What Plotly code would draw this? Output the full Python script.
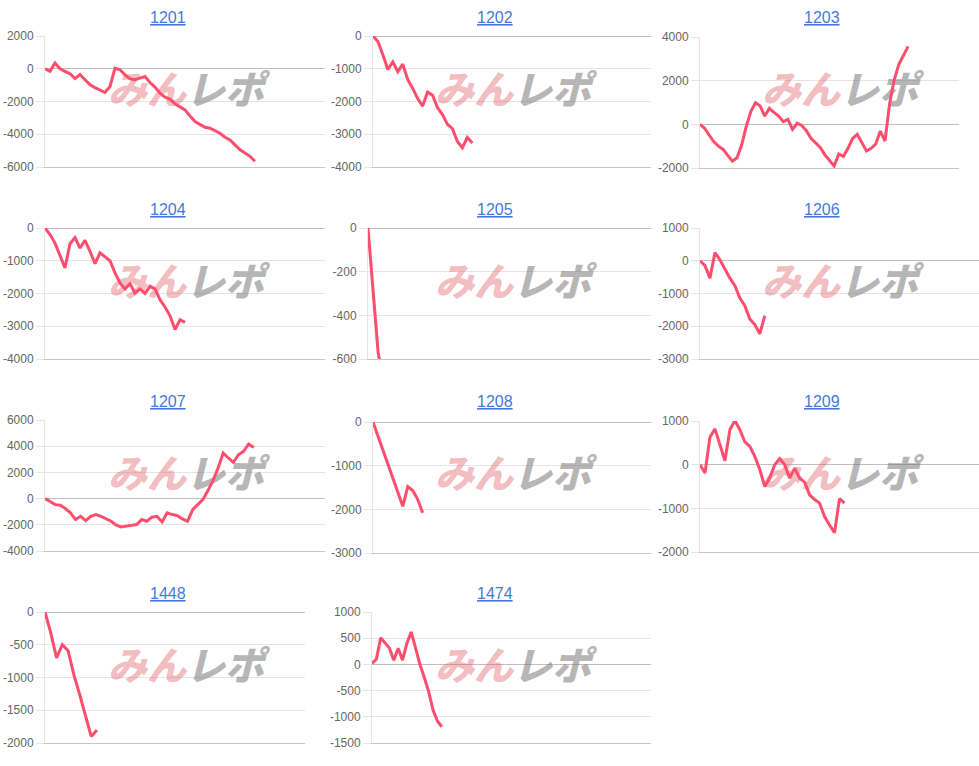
import plotly.graph_objects as go

W, H = 979, 766
OX, OY = 0, 0

# ---------------- data ----------------
machines = ["1201", "1202", "1203", "1204", "1205", "1206",
            "1207", "1208", "1209", "1448", "1474"]

diff_1201 = [0, -160, 350, 0, -160, -300, -600, -350, -670, -980,
             -1150, -1290, -1450, -1080, 40, -60, -370, -610, -670, -570,
             -470, -840, -1120, -1490, -1730, -1860, -2140, -2330, -2510, -2880,
             -3220, -3400, -3570, -3630, -3780, -3940, -4180, -4350, -4650, -4950,
             -5150, -5350, -5650]
diff_1202 = [0, -170, -580, -1020, -790, -1090, -860, -1330, -1600, -1910,
             -2140, -1710, -1810, -2190, -2400, -2700, -2830, -3220, -3410, -3100,
             -3270]
diff_1203 = [0, -180, -500, -800, -1000, -1150, -1420, -1690, -1530, -950,
             -100, 600, 990, 840, 380, 730, 550, 380, 120, 230,
             -230, 50, -50, -290, -640, -830, -1060, -1400, -1670, -1910,
             -1360, -1470, -1100, -650, -460, -870, -1220, -1100, -900, -310,
             -770, 960, 2040, 2750, 3200, 3570]
diff_1204 = [0, -200, -460, -850, -1220, -480, -290, -610, -380, -710,
             -1090, -760, -870, -1000, -1370, -1680, -1860, -1700, -1980, -1860,
             -2000, -1780, -1860, -2190, -2410, -2680, -3100, -2800, -2880]
diff_1205 = [0, -280, -570, -700]
diff_1206 = [0, -150, -530, 250, 30, -270, -530, -760, -1140, -1370,
             -1780, -1950, -2230, -1680]
diff_1207 = [0, -200, -460, -510, -760, -1090, -1600, -1350, -1680, -1350,
             -1220, -1350, -1550, -1730, -2030, -2160, -2100, -2060, -1980, -1600,
             -1730, -1420, -1350, -1780, -1090, -1220, -1300, -1550, -1730, -840,
             -460, -80, 610, 1370, 2340, 3480, 3100, 2770, 3350, 3610,
             4170, 3910]
diff_1208 = [0, -320, -640, -960, -1280, -1600, -1930, -1480, -1570, -1770,
             -2080]
diff_1209 = [0, -190, 630, 820, 460, 90, 800, 1010, 800, 520,
             420, 190, -110, -500, -300, 0, 140, 0, -310, -80,
             -310, -400, -690, -800, -880, -1190, -1380, -1560, -780, -880]
diff_1448 = [0, -320, -700, -500, -590, -960, -1260, -1580, -1900, -1800]
diff_1474 = [20, 100, 510, 420, 310, 80, 310, 80, 400, 620,
             310, 0, -250, -520, -870, -1080, -1190]

series = [diff_1201, diff_1202, diff_1203, diff_1204, diff_1205, diff_1206,
          diff_1207, diff_1208, diff_1209, diff_1448, diff_1474]

# number of x-axis category slots (minus one) on each small chart
x_slots = [56, 56, 56, 56, 56, 56, 55, 56, 56, 45, 64]

# y tick values per chart
y_ticks = [
    [-6000, -4000, -2000, 0, 2000],
    [-4000, -3000, -2000, -1000, 0],
    [-2000, 0, 2000, 4000],
    [-4000, -3000, -2000, -1000, 0],
    [-600, -400, -200, 0],
    [-3000, -2000, -1000, 0, 1000],
    [-4000, -2000, 0, 2000, 4000, 6000],
    [-3000, -2000, -1000, 0],
    [-2000, -1000, 0, 1000],
    [-2000, -1500, -1000, -500, 0],
    [-1500, -1000, -500, 0, 500, 1000],
]

# ---------------- layout (page pixels) ----------------
# plot boxes: left, right, top, bottom
boxes = [
    (45, 325, 36, 167), (373, 651, 36, 167), (700, 959, 37, 168),
    (45, 325, 228, 359), (368, 651, 228, 359), (700, 979, 228, 359),
    (45, 325, 420, 551), (373, 651, 422, 553), (700, 979, 421, 552),
    (45, 305, 612, 743), (372, 651, 612, 743),
]
title_cx = [168, 495, 822]
title_cy = [17.5, 209.5, 402, 593]
mark_cx = [186, 513, 840]
mark_cy = [94, 286, 478.5, 670.5]


def px(x):
    return min(1.0, max(0.0, (x - OX) / W))


def py(y):
    return min(1.0, max(0.0, 1 - (y - OY) / H))


LINE = "#ff4d6d"
GRID = "rgba(0,0,0,0.1)"
ZERO = "rgba(0,0,0,0.25)"
TICKFONT = dict(family="Liberation Sans, Arial, sans-serif", size=12, color="#666666")
MARK_TEXT = ("<span style='color:rgba(225,95,105,0.42)'>みん</span>"
             "<span style='color:rgba(110,110,110,0.5)'>レポ</span>")

fig = go.Figure()
layout = dict(
    template="none",
    width=W, height=H, autosize=False,
    margin=dict(l=0, r=0, t=0, b=0, pad=0, autoexpand=False),
    paper_bgcolor="white", plot_bgcolor="rgba(0,0,0,0)",
    showlegend=False,
    annotations=[],
)

for i, (name, ys) in enumerate(zip(machines, series)):
    k = "" if i == 0 else str(i + 1)
    l, r, t, b = boxes[i]
    r = min(r, OX + W)
    col, row = i % 3, i // 3
    tv = y_ticks[i]
    ymin, ymax = min(tv), max(tv)
    L = x_slots[i]

    # watermark logo, drawn first so it sits beneath the line
    wx = (mark_cx[col] - l) / (r - l) * L
    wy = ymax - (mark_cy[row] - t) / (b - t) * (ymax - ymin)
    fig.add_trace(go.Scatter(
        x=[wx], y=[wy], mode="text", text=[MARK_TEXT],
        textposition="middle center",
        textfont=dict(family="Noto Sans CJK JP, sans-serif", size=39,
                      weight=900, style="italic"),
        xaxis="x" + k, yaxis="y" + k, hoverinfo="skip", cliponaxis=False,
    ))

    xs = list(range(len(ys)))
    fig.add_trace(go.Scatter(
        x=xs, y=ys, mode="lines",
        line=dict(color=LINE, width=3),
        xaxis="x" + k, yaxis="y" + k,
        hoverinfo="skip",
    ))
    layout["xaxis" + k] = dict(
        domain=[px(l), px(r)], range=[0, L], automargin=False,
        showgrid=False, zeroline=False, showticklabels=False, ticks="",
        showline=True, linecolor="rgba(0,0,0,0.22)", linewidth=1,
        anchor="y" + k, fixedrange=True,
    )
    layout["yaxis" + k] = dict(
        domain=[py(b), py(t)], range=[ymin, ymax], automargin=False,
        tickvals=tv, ticktext=[str(v) for v in tv],
        showgrid=True, gridcolor=GRID, gridwidth=1,
        zeroline=True, zerolinecolor=ZERO, zerolinewidth=1,
        showline=True, linecolor=GRID, linewidth=1,
        ticks="outside", ticklen=8, tickcolor=GRID, tickwidth=1,
        tickfont=TICKFONT, anchor="x" + k, fixedrange=True,
    )
    # title link
    layout["annotations"].append(dict(
        xref="paper", yref="paper",
        x=px(title_cx[col]), y=py(title_cy[row]),
        xanchor="center", yanchor="middle", showarrow=False,
        text="<a href='#'><u>" + name + "</u></a>",
        font=dict(family="Liberation Sans, Arial, sans-serif", size=16, color="#1a73d9"),
    ))

fig.update_layout(**layout)
fig.write_html(
    "out.html",
    config={"displayModeBar": False, "staticPlot": False},
    post_script="document.body.style.margin='0';document.body.style.overflow='hidden';",
)
